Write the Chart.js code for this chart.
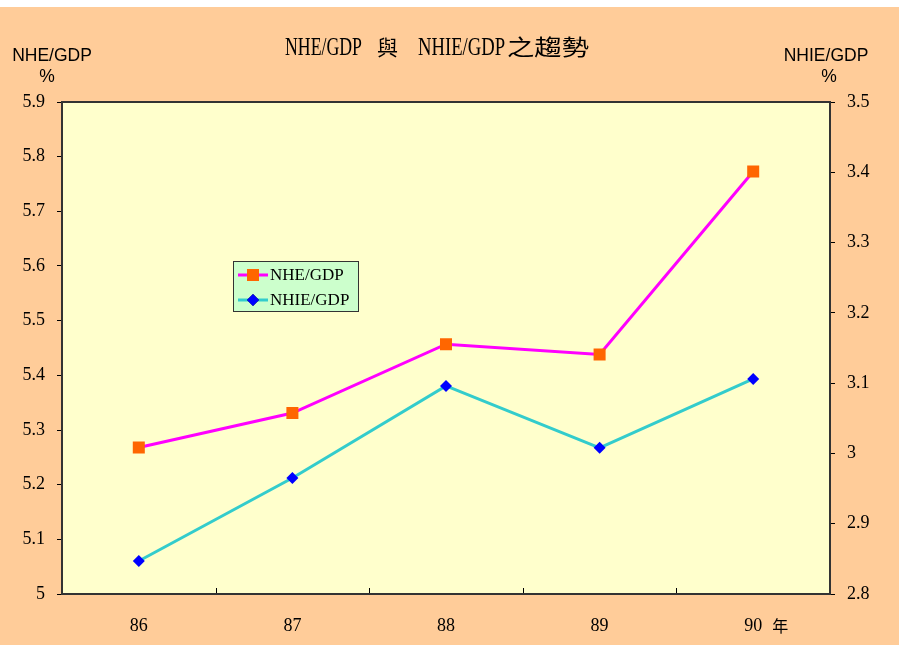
<!DOCTYPE html>
<html>
<head>
<meta charset="utf-8">
<script src="https://cdn.jsdelivr.net/npm/chart.js@4/dist/chart.umd.min.js"></script>
<style>
  html, body { margin: 0; padding: 0; background: #ffffff; }
  #wrap { position: absolute; left: 0; top: 7px; width: 899px; height: 638px; background: #FFCC99; }
  canvas { display: block; }
</style>
</head>
<body>
<div id="wrap"><canvas id="c" width="899" height="638"></canvas></div>
<script>
// ---- data ----
const categories = ['86', '87', '88', '89', '90'];
const nheGdp  = [5.268, 5.331, 5.457, 5.438, 5.773];
const nhieGdp = [2.847, 2.965, 3.096, 3.008, 3.106];
const leftTicks  = { min: 5.0, max: 5.9, step: 0.1 };
const rightTicks = { min: 2.8, max: 3.5, step: 0.1 };
const seriesNames = ['NHE/GDP', 'NHIE/GDP'];
const leftAxisTitle = ['NHE/GDP', '%'];
const rightAxisTitle = ['NHIE/GDP', '%'];
const xUnit = '年';

const SERIF = "'Liberation Serif', 'Noto Sans CJK TC', serif";
const SANS = "'Liberation Sans', Arial, sans-serif";
const CJK = "'Noto Sans CJK TC', sans-serif";

const fmt = v => String(Number(Number(v).toFixed(1)));

const decor = {
  id: 'decor',
  beforeDraw(chart) {
    const { ctx, chartArea: a } = chart;
    ctx.save();
    ctx.fillStyle = '#FFFFCC';
    ctx.fillRect(a.left, a.top, a.right - a.left, a.bottom - a.top);
    ctx.restore();
  },
  beforeDatasetsDraw(chart) {
    const { ctx, chartArea: a, scales } = chart;
    ctx.save();
    const xs = scales.x;
    ctx.strokeStyle = '#000';
    ctx.lineWidth = 1;
    for (let i = 1; i < categories.length; i++) {
      const px = Math.round((xs.getPixelForValue(i - 1) + xs.getPixelForValue(i)) / 2) + 0.5;
      ctx.beginPath();
      ctx.moveTo(px, a.bottom);
      ctx.lineTo(px, a.bottom - 6);
      ctx.stroke();
    }
    ctx.strokeStyle = '#333333';
    ctx.lineWidth = 2;
    ctx.strokeRect(a.left, a.top, a.right - a.left, a.bottom - a.top);
    ctx.restore();
  },
  afterDraw(chart) {
    const { ctx, scales } = chart;
    ctx.save();
    ctx.fillStyle = '#000';
    ctx.textBaseline = 'alphabetic';
    ctx.textAlign = 'left';
    const pieces = [
      ['NHE/GDP', 285, 77, "25px 'Liberation Serif', serif"],
      ['與', 377, 21, "21px " + CJK],
      ['NHIE/GDP', 418, 87, "25px 'Liberation Serif', serif"],
      ['之趨勢', 507, 82, "22px " + CJK]
    ];
    for (const [t, x, w, f] of pieces) {
      ctx.font = f;
      const m = ctx.measureText(t).width;
      ctx.save();
      ctx.translate(x, 48);
      ctx.scale(w / m, 1);
      ctx.fillText(t, 0, 0);
      ctx.restore();
    }
    ctx.font = '17.5px ' + SANS;
    ctx.textAlign = 'center';
    ctx.textBaseline = 'middle';
    ctx.fillText(leftAxisTitle[0], 52, 49);
    ctx.fillText(leftAxisTitle[1], 47, 70);
    ctx.fillText(rightAxisTitle[0], 826, 49);
    ctx.fillText(rightAxisTitle[1], 829, 70);
    const xs = scales.x;
    ctx.font = '16px ' + CJK;
    ctx.textAlign = 'left';
    ctx.fillText(xUnit, xs.getPixelForValue(categories.length - 1) + 19, 619);
    const lx = 233, ly = 254, lw = 125, lh = 50;
    ctx.fillStyle = '#CCFFCC';
    ctx.fillRect(lx, ly, lw, lh);
    ctx.strokeStyle = '#333333';
    ctx.lineWidth = 1;
    ctx.strokeRect(lx + 0.5, ly + 0.5, lw, lh);
    chart.data.datasets.forEach((ds, i) => {
      const yy = ly + 14 + i * 25;
      ctx.strokeStyle = ds.borderColor;
      ctx.lineWidth = 3;
      ctx.beginPath();
      ctx.moveTo(lx + 5, yy);
      ctx.lineTo(lx + 35, yy);
      ctx.stroke();
      Chart.helpers.drawPoint(ctx, {
        pointStyle: ds.pointStyle, radius: ds.pointRadius, borderWidth: 0
      }, lx + 20, yy);
      ctx.fillStyle = ds.pointBackgroundColor;
      ctx.fill();
      ctx.fillStyle = '#000';
      ctx.font = '17px ' + SERIF;
      ctx.textAlign = 'left';
      ctx.textBaseline = 'middle';
      ctx.fillText(ds.label, lx + 37, yy + 1);
    });
    ctx.restore();
  }
};

new Chart(document.getElementById('c'), {
  type: 'line',
  data: {
    labels: categories,
    datasets: [
      {
        label: seriesNames[0],
        data: nheGdp,
        yAxisID: 'y',
        borderColor: '#FF00FF',
        borderWidth: 3,
        pointStyle: 'rect',
        pointRadius: 8.5,
        pointHoverRadius: 8.5,
        pointBackgroundColor: '#FF6600',
        pointBorderColor: '#FF6600',
        pointBorderWidth: 0,
        tension: 0
      },
      {
        label: seriesNames[1],
        data: nhieGdp,
        yAxisID: 'y1',
        borderColor: '#33CCCC',
        borderWidth: 3,
        pointStyle: 'rectRot',
        pointRadius: 6,
        pointHoverRadius: 6,
        pointBackgroundColor: '#0000FF',
        pointBorderColor: '#0000FF',
        pointBorderWidth: 0,
        tension: 0
      }
    ]
  },
  options: {
    responsive: false,
    animation: false,
    events: [],
    layout: { padding: { top: 95, left: 0, right: 0, bottom: 0 } },
    plugins: { legend: { display: false }, title: { display: false }, tooltip: { enabled: false } },
    scales: {
      x: {
        type: 'category',
        offset: true,
        grid: { display: false, drawTicks: false },
        border: { display: false },
        ticks: { color: '#000', font: { family: SERIF, size: 18 }, padding: 21, maxRotation: 0 },
        afterFit(s) { s.height = 51; }
      },
      y: {
        position: 'left',
        min: leftTicks.min, max: leftTicks.max,
        grid: { drawOnChartArea: false, drawTicks: true, tickLength: 5, color: '#000' },
        border: { display: false },
        ticks: { stepSize: leftTicks.step, color: '#000', font: { family: SERIF, size: 18 }, padding: 12, callback: v => fmt(v) },
        afterFit(s) { s.width = 62; }
      },
      y1: {
        position: 'right',
        min: rightTicks.min, max: rightTicks.max,
        grid: { drawOnChartArea: false, drawTicks: true, tickLength: 5, color: '#000' },
        border: { display: false },
        ticks: { stepSize: rightTicks.step, color: '#000', font: { family: SERIF, size: 18 }, padding: 12, callback: v => fmt(v) },
        afterFit(s) { s.width = 69; }
      }
    }
  },
  plugins: [decor]
});
</script>
</body>
</html>
